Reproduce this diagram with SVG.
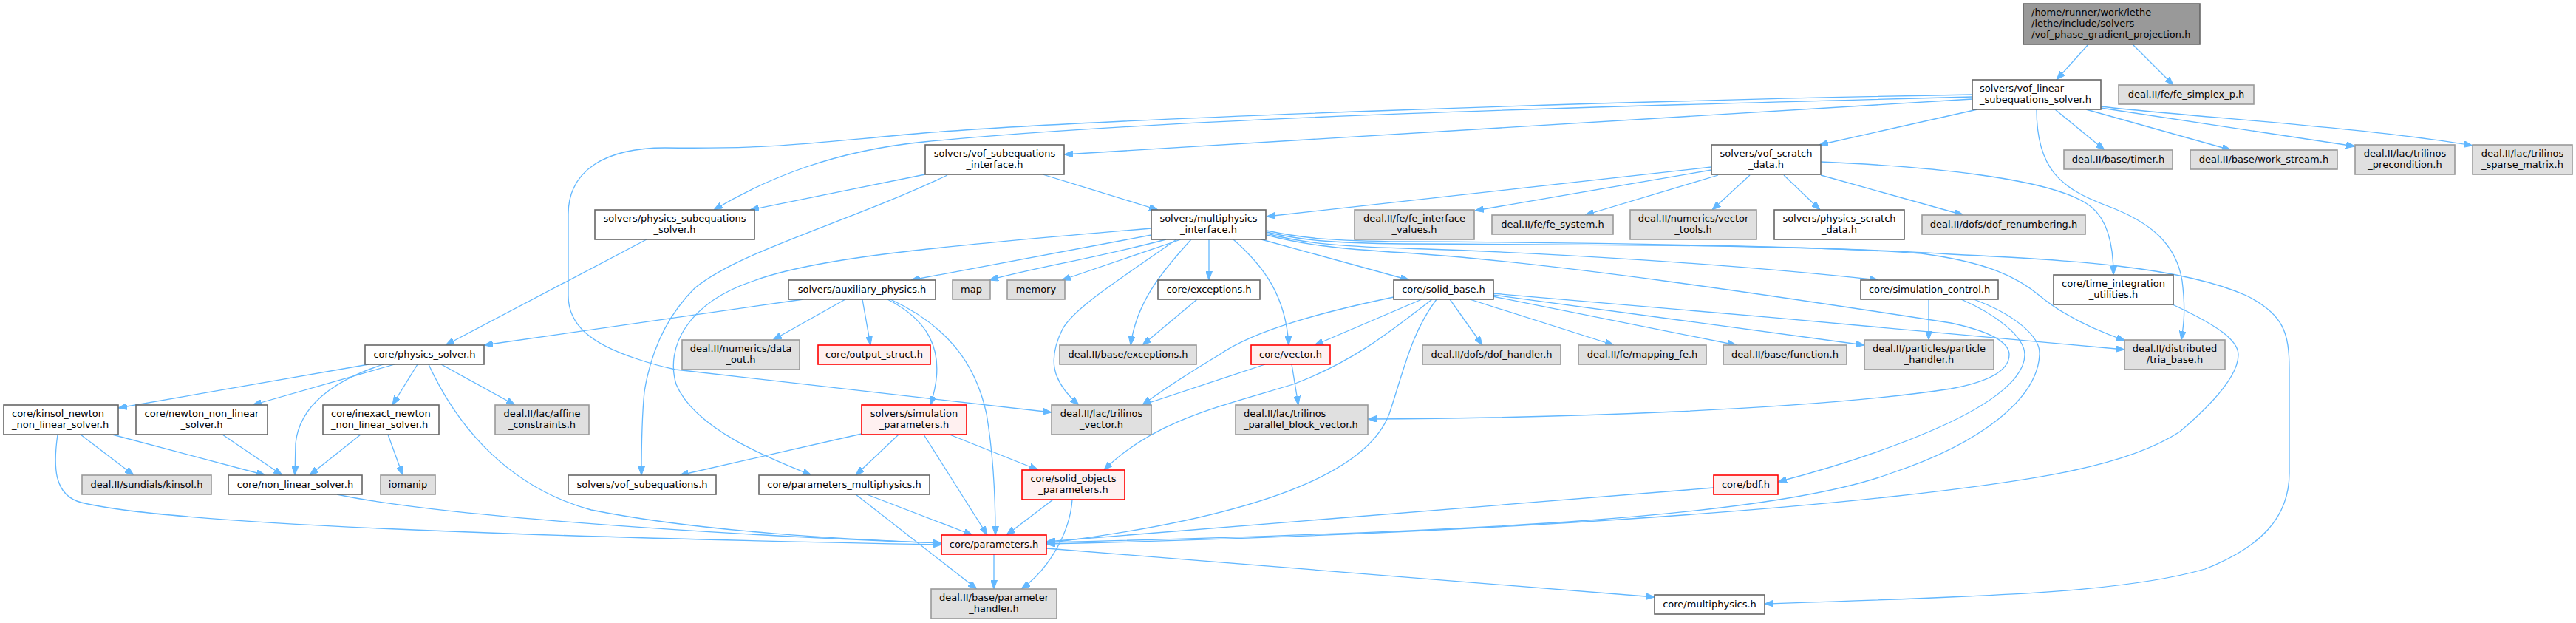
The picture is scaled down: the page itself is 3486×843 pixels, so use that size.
<svg xmlns="http://www.w3.org/2000/svg" width="3486" height="843" viewBox="0 0 3486 843">
<style>
.w{fill:#ffffff;stroke:#666666;stroke-width:1.6}
.g{fill:#e0e0e0;stroke:#999999;stroke-width:1.6}
.r{fill:#fff0f0;stroke:#ff0000;stroke-width:1.6}
.k{fill:#999999;stroke:#666666;stroke-width:1.6}
text{font-family:"DejaVu Sans","Liberation Sans",sans-serif;font-size:13px;fill:#000000}
.c{text-anchor:middle}
.e path{fill:none;stroke:#63b8ff;stroke-width:1.3;marker-end:url(#a)}
</style>
<defs>
<marker id="a" markerWidth="12" markerHeight="9" refX="12" refY="4.5" orient="auto" markerUnits="userSpaceOnUse"><path d="M0,0 L12,4.5 L0,9 z" fill="#63b8ff" stroke="#63b8ff" stroke-width="1"/></marker>
</defs>
<rect x="0" y="0" width="3486" height="843" fill="#ffffff"/>
<g class="e" id="edges">
<path d="M2826,60 L2783,108"/>
<path d="M2886,60 L2941,115"/>
<path d="M2669,134 L1440,209"/>
<path d="M2669,131 C2200,143 1600,158 1250,192 C1130,204 1040,240 966,284"/>
<path d="M2669,128 C2200,136 1500,160 1250,180 C1100,193 1050,202 900,200 C820,200 769,230 769,290 L769,400 C769,440 800,465 860,485 C880,492 900,497 914,500 L1423,558"/>
<path d="M2676,148 L2462,196"/>
<path d="M2781,148 L2848,203"/>
<path d="M2823,148 L3019,203"/>
<path d="M2843,146 L3187,198"/>
<path d="M2843,144 C2950,157 3200,172 3346,197"/>
<path d="M2756,148 C2756,230 2790,255 2850,278 C2910,300 2945,330 2953,380 C2958,420 2955,440 2952,460"/>
<path d="M2316,226 L1714,293"/>
<path d="M2316,230 L1996,285"/>
<path d="M2325,237 L2145,291"/>
<path d="M2368,237 L2317,284"/>
<path d="M2414,237 L2463,284"/>
<path d="M2464,237 L2657,291"/>
<path d="M2464,219 C2600,225 2780,240 2830,280 C2855,300 2860,340 2860,372"/>
<path d="M1252,236 L1015,284"/>
<path d="M1411,236 L1567,284"/>
<path d="M1282,237 C1150,300 1000,340 940,390 C900,430 880,480 872,530 C868,570 868,610 868,643"/>
<path d="M875,324 L603,467"/>
<path d="M1558,318 L1233,379"/>
<path d="M1578,324 C1480,350 1400,362 1339,379"/>
<path d="M1598,324 L1437,379"/>
<path d="M1636,324 L1636,379"/>
<path d="M1592,324 C1520,375 1455,415 1438,445 C1418,485 1422,515 1460,548"/>
<path d="M1612,324 C1570,370 1538,410 1530,467"/>
<path d="M1669,324 C1710,360 1740,400 1744,467"/>
<path d="M1707,324 L1907,379"/>
<path d="M1714,316 C1760,328 1800,333 1900,336 C2100,342 2350,358 2542,379"/>
<path d="M1714,314 C1760,325 1800,329 1900,330 C2200,331 2450,332 2600,343 C2690,355 2730,375 2760,400 C2790,425 2830,445 2876,461"/>
<path d="M1714,318 C1760,330 1800,336 1900,342 C2100,355 2400,400 2640,437 C2700,450 2719,465 2719,480 C2719,498 2700,515 2640,526 C2450,555 2100,566 1851,567"/>
<path d="M1714,312 C1760,322 1800,326 1900,327 C2200,328 2500,335 2640,344 C2800,352 2950,360 3040,400 C3090,425 3098,450 3098,500 L3098,640 C3098,700 3060,740 2984,770 C2880,800 2700,805 2660,807 C2550,812 2450,815 2388,817"/>
<path d="M1886,402 C1800,420 1700,445 1650,480 C1600,510 1570,530 1546,548"/>
<path d="M1924,405 L1779,467"/>
<path d="M1938,405 C1880,450 1830,490 1750,520 C1650,550 1560,570 1494,636"/>
<path d="M1944,405 C1910,450 1900,500 1880,560 C1850,640 1700,700 1416,735"/>
<path d="M1962,405 L2006,467"/>
<path d="M1989,405 L2184,467"/>
<path d="M2020,401 L2350,467"/>
<path d="M2020,399 L2523,467"/>
<path d="M2020,397 C2300,420 2600,448 2875,473"/>
<path d="M1712,493 L1546,548"/>
<path d="M1748,493 L1757,548"/>
<path d="M1620,405 L1546,467"/>
<path d="M2610,405 L2610,460"/>
<path d="M2654,405 C2700,425 2740,455 2740,480 C2740,510 2700,545 2620,580 C2540,615 2460,638 2406,652"/>
<path d="M2671,405 C2725,425 2762,455 2760,480 C2757,540 2680,600 2560,640 C2400,700 2000,720 1416,734"/>
<path d="M2940,412 C3000,440 3029,460 3029,480 C3029,510 2990,550 2950,584 C2880,630 2760,650 2560,672 C2300,700 1900,725 1416,736"/>
<path d="M2319,660 L1416,733"/>
<path d="M1416,742 L2239,808"/>
<path d="M1345,750 L1345,797"/>
<path d="M499,493 L160,552"/>
<path d="M534,493 L342,548"/>
<path d="M519,493 C450,515 405,550 400,600 L399,643"/>
<path d="M565,493 L531,548"/>
<path d="M597,493 L697,548"/>
<path d="M580,493 C620,580 690,660 800,690 C950,720 1150,730 1274,735"/>
<path d="M109,588 L181,643"/>
<path d="M152,588 L359,643"/>
<path d="M78,588 C72,630 72,670 110,680 C250,715 900,730 1274,737"/>
<path d="M301,588 L382,643"/>
<path d="M488,588 L419,643"/>
<path d="M525,588 L545,643"/>
<path d="M456,669 C600,700 1000,725 1274,735"/>
<path d="M1087,405 L655,467"/>
<path d="M1144,405 L1046,460"/>
<path d="M1167,405 L1178,467"/>
<path d="M1201,405 C1250,430 1285,470 1259,548"/>
<path d="M1205,405 C1280,440 1320,490 1335,560 C1345,620 1347,680 1347,724"/>
<path d="M1166,587 L920,643"/>
<path d="M1216,588 L1158,643"/>
<path d="M1250,588 L1336,724"/>
<path d="M1285,588 L1405,636"/>
<path d="M1558,309 C1250,335 1100,350 1020,380 C930,410 900,470 915,520 C940,580 1040,620 1098,643"/>
<path d="M1173,669 L1316,724"/>
<path d="M1158,669 L1322,797"/>
<path d="M1425,676 L1362,724"/>
<path d="M1451,676 C1448,720 1420,770 1382,797"/>
</g>
<g id="root"><rect class="k" x="2738" y="5" width="239" height="55"/><text x="2749" y="21">/home/runner/work/lethe</text><text x="2749" y="36">/lethe/include/solvers</text><text x="2749" y="51">/vof_phase_gradient_projection.h</text></g>
<g id="vof_linear"><rect class="w" x="2669" y="108" width="174" height="40"/><text x="2679" y="124">solvers/vof_linear</text><text x="2679" y="139">_subequations_solver.h</text></g>
<g id="fe_simplex"><rect class="g" x="2867" y="115" width="183" height="26"/><text class="c" x="2958.5" y="132">deal.II/fe/fe_simplex_p.h</text></g>
<g id="vof_subeq_interface"><rect class="w" x="1252" y="196" width="188" height="40"/><text class="c" x="1346" y="212">solvers/vof_subequations</text><text class="c" x="1346" y="227">_interface.h</text></g>
<g id="vof_scratch"><rect class="w" x="2316" y="196" width="148" height="40"/><text class="c" x="2390" y="212">solvers/vof_scratch</text><text class="c" x="2390" y="227">_data.h</text></g>
<g id="timer"><rect class="g" x="2793" y="203" width="147" height="26"/><text class="c" x="2866.5" y="220">deal.II/base/timer.h</text></g>
<g id="work_stream"><rect class="g" x="2964" y="203" width="199" height="26"/><text class="c" x="3063.5" y="220">deal.II/base/work_stream.h</text></g>
<g id="trilinos_precondition"><rect class="g" x="3187" y="196" width="135" height="40"/><text class="c" x="3254.5" y="212">deal.II/lac/trilinos</text><text class="c" x="3254.5" y="227">_precondition.h</text></g>
<g id="trilinos_sparse_matrix"><rect class="g" x="3346" y="196" width="135" height="40"/><text class="c" x="3413.5" y="212">deal.II/lac/trilinos</text><text class="c" x="3413.5" y="227">_sparse_matrix.h</text></g>
<g id="physics_subequations_solver"><rect class="w" x="805" y="284" width="216" height="40"/><text class="c" x="913" y="300">solvers/physics_subequations</text><text class="c" x="913" y="315">_solver.h</text></g>
<g id="multiphysics_interface"><rect class="w" x="1558" y="284" width="155" height="40"/><text class="c" x="1635.5" y="300">solvers/multiphysics</text><text class="c" x="1635.5" y="315">_interface.h</text></g>
<g id="fe_interface_values"><rect class="g" x="1833" y="284" width="162" height="40"/><text class="c" x="1914" y="300">deal.II/fe/fe_interface</text><text class="c" x="1914" y="315">_values.h</text></g>
<g id="fe_system"><rect class="g" x="2019" y="291" width="164" height="26"/><text class="c" x="2101" y="308">deal.II/fe/fe_system.h</text></g>
<g id="vector_tools"><rect class="g" x="2206" y="284" width="171" height="40"/><text class="c" x="2291.5" y="300">deal.II/numerics/vector</text><text class="c" x="2291.5" y="315">_tools.h</text></g>
<g id="physics_scratch_data"><rect class="w" x="2401" y="284" width="176" height="40"/><text class="c" x="2489" y="300">solvers/physics_scratch</text><text class="c" x="2489" y="315">_data.h</text></g>
<g id="dof_renumbering"><rect class="g" x="2601" y="291" width="221" height="26"/><text class="c" x="2711.5" y="308">deal.II/dofs/dof_renumbering.h</text></g>
<g id="auxiliary_physics"><rect class="w" x="1067" y="379" width="199" height="26"/><text class="c" x="1166.5" y="396">solvers/auxiliary_physics.h</text></g>
<g id="map"><rect class="g" x="1289" y="379" width="51" height="26"/><text class="c" x="1314.5" y="396">map</text></g>
<g id="memory"><rect class="g" x="1363" y="379" width="78" height="26"/><text class="c" x="1402" y="396">memory</text></g>
<g id="core_exceptions"><rect class="w" x="1567" y="379" width="138" height="26"/><text class="c" x="1636" y="396">core/exceptions.h</text></g>
<g id="solid_base"><rect class="w" x="1886" y="379" width="135" height="26"/><text class="c" x="1953.5" y="396">core/solid_base.h</text></g>
<g id="simulation_control"><rect class="w" x="2518" y="379" width="186" height="26"/><text class="c" x="2611" y="396">core/simulation_control.h</text></g>
<g id="time_integration"><rect class="w" x="2779" y="372" width="162" height="40"/><text class="c" x="2860" y="388">core/time_integration</text><text class="c" x="2860" y="403">_utilities.h</text></g>
<g id="physics_solver"><rect class="w" x="494" y="467" width="161" height="26"/><text class="c" x="574.5" y="484">core/physics_solver.h</text></g>
<g id="data_out"><rect class="g" x="923" y="460" width="159" height="40"/><text class="c" x="1002.5" y="476">deal.II/numerics/data</text><text class="c" x="1002.5" y="491">_out.h</text></g>
<g id="output_struct"><rect class="r" x="1107" y="467" width="152" height="26"/><text class="c" x="1183" y="484">core/output_struct.h</text></g>
<g id="base_exceptions"><rect class="g" x="1434" y="467" width="185" height="26"/><text class="c" x="1526.5" y="484">deal.II/base/exceptions.h</text></g>
<g id="core_vector"><rect class="r" x="1693" y="467" width="107" height="26"/><text class="c" x="1746.5" y="484">core/vector.h</text></g>
<g id="dof_handler"><rect class="g" x="1925" y="467" width="187" height="26"/><text class="c" x="2018.5" y="484">deal.II/dofs/dof_handler.h</text></g>
<g id="mapping_fe"><rect class="g" x="2136" y="467" width="173" height="26"/><text class="c" x="2222.5" y="484">deal.II/fe/mapping_fe.h</text></g>
<g id="function"><rect class="g" x="2332" y="467" width="167" height="26"/><text class="c" x="2415.5" y="484">deal.II/base/function.h</text></g>
<g id="particle_handler"><rect class="g" x="2523" y="460" width="175" height="40"/><text class="c" x="2610.5" y="476">deal.II/particles/particle</text><text class="c" x="2610.5" y="491">_handler.h</text></g>
<g id="tria_base"><rect class="g" x="2875" y="460" width="136" height="40"/><text class="c" x="2943" y="476">deal.II/distributed</text><text class="c" x="2943" y="491">/tria_base.h</text></g>
<g id="kinsol_newton"><rect class="w" x="5" y="548" width="155" height="40"/><text x="16" y="564">core/kinsol_newton</text><text x="16" y="579">_non_linear_solver.h</text></g>
<g id="newton_non_linear"><rect class="w" x="184" y="548" width="178" height="40"/><text class="c" x="273" y="564">core/newton_non_linear</text><text class="c" x="273" y="579">_solver.h</text></g>
<g id="inexact_newton"><rect class="w" x="437" y="548" width="157" height="40"/><text x="448" y="564">core/inexact_newton</text><text x="448" y="579">_non_linear_solver.h</text></g>
<g id="affine_constraints"><rect class="g" x="670" y="548" width="127" height="40"/><text class="c" x="733.5" y="564">deal.II/lac/affine</text><text class="c" x="733.5" y="579">_constraints.h</text></g>
<g id="simulation_parameters"><rect class="r" x="1166" y="548" width="142" height="40"/><text class="c" x="1237" y="564">solvers/simulation</text><text class="c" x="1237" y="579">_parameters.h</text></g>
<g id="trilinos_vector"><rect class="g" x="1423" y="548" width="135" height="40"/><text class="c" x="1490.5" y="564">deal.II/lac/trilinos</text><text class="c" x="1490.5" y="579">_vector.h</text></g>
<g id="parallel_block_vector"><rect class="g" x="1672" y="548" width="179" height="40"/><text x="1683" y="564">deal.II/lac/trilinos</text><text x="1683" y="579">_parallel_block_vector.h</text></g>
<g id="sundials_kinsol"><rect class="g" x="111" y="643" width="175" height="26"/><text class="c" x="198.5" y="660">deal.II/sundials/kinsol.h</text></g>
<g id="non_linear_solver"><rect class="w" x="309" y="643" width="181" height="26"/><text class="c" x="399.5" y="660">core/non_linear_solver.h</text></g>
<g id="iomanip"><rect class="g" x="515" y="643" width="74" height="26"/><text class="c" x="552" y="660">iomanip</text></g>
<g id="vof_subequations"><rect class="w" x="769" y="643" width="200" height="26"/><text class="c" x="869" y="660">solvers/vof_subequations.h</text></g>
<g id="parameters_multiphysics"><rect class="w" x="1027" y="643" width="231" height="26"/><text class="c" x="1142.5" y="660">core/parameters_multiphysics.h</text></g>
<g id="solid_objects_parameters"><rect class="r" x="1383" y="636" width="139" height="40"/><text class="c" x="1452.5" y="652">core/solid_objects</text><text class="c" x="1452.5" y="667">_parameters.h</text></g>
<g id="bdf"><rect class="r" x="2319" y="643" width="87" height="26"/><text class="c" x="2362.5" y="660">core/bdf.h</text></g>
<g id="parameters"><rect class="r" x="1274" y="724" width="142" height="26"/><text class="c" x="1345" y="741">core/parameters.h</text></g>
<g id="parameter_handler"><rect class="g" x="1260" y="797" width="170" height="40"/><text class="c" x="1345" y="813">deal.II/base/parameter</text><text class="c" x="1345" y="828">_handler.h</text></g>
<g id="multiphysics"><rect class="w" x="2239" y="805" width="149" height="26"/><text class="c" x="2313.5" y="822">core/multiphysics.h</text></g>
</svg>
